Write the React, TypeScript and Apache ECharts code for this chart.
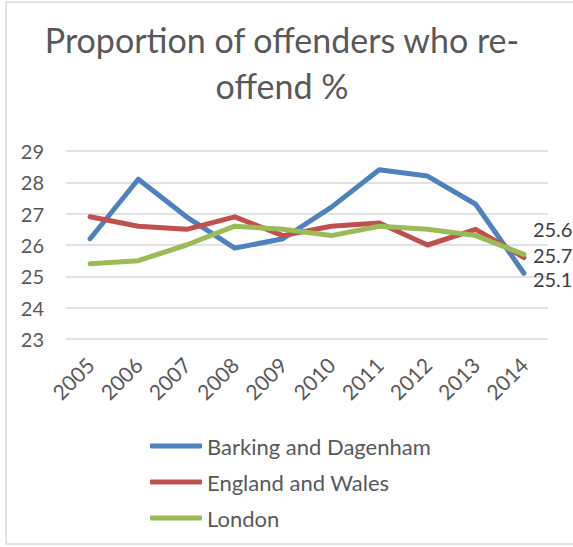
import React, { useEffect, useRef } from "react";
import * as echarts from "echarts";

const years = ["2005", "2006", "2007", "2008", "2009", "2010", "2011", "2012", "2013", "2014"];
const barking = [26.2, 28.1, 26.9, 25.9, 26.2, 27.2, 28.4, 28.2, 27.3, 25.1];
const englandWales = [26.9, 26.6, 26.5, 26.9, 26.3, 26.6, 26.7, 26.0, 26.5, 25.6];
const london = [25.4, 25.5, 26.0, 26.6, 26.5, 26.3, 26.6, 26.5, 26.3, 25.7];
const seriesNames = ["Barking and Dagenham", "England and Wales", "London"];
const colors = ["#4F81BD", "#C0504D", "#9BBB59"];
const labelOffsets = [6, -29, 1];

const FONT = "Lato, 'Open Sans', sans-serif";

export default function App() {
  const ref = useRef<HTMLDivElement>(null);
  useEffect(() => {
    if (!ref.current) return;
    const chart = echarts.init(ref.current, undefined, { renderer: "svg" });
    const all = [barking, englandWales, london];
    const series = all.map((vals, i) => ({
      name: seriesNames[i],
      type: "line",
      data: vals,
      showSymbol: false,
      symbol: "none",
      lineStyle: { color: colors[i], width: 5, cap: "round", join: "round" },
      itemStyle: { color: colors[i] },
      endLabel: {
        show: true,
        distance: 9,
        offset: [0, labelOffsets[i]],
        color: "#404040",
        fontSize: 20,
        lineHeight: 18,
        fontFamily: FONT,
        formatter: () => String(vals[vals.length - 1]),
      },
      z: 3 + i,
    }));
    chart.setOption({
      animation: false,
      backgroundColor: "#ffffff",
      textStyle: { fontFamily: FONT },
      title: {
        text: "Proportion of offenders who re-\noffend %",
        left: 277,
        top: 11,
        textAlign: "center",
        textStyle: {
          fontFamily: FONT,
          fontSize: 34,
          fontWeight: "normal",
          color: "#595959",
          lineHeight: 46,
        },
      },
      graphic: [
        {
          type: "rect",
          shape: { x: 6, y: 2, width: 600, height: 542 },
          style: { fill: "none", stroke: "#d9d9d9", lineWidth: 1.5 },
          silent: true,
        },
      ],
      legend: {
        orient: "vertical",
        left: 145,
        top: 428,
        itemWidth: 52,
        itemHeight: 5,
        itemGap: 10,
        icon: "roundRect",
        data: seriesNames.map((n, i) => ({ name: n, itemStyle: { color: colors[i] } })),
        textStyle: { fontFamily: FONT, fontSize: 22, color: "#595959", lineHeight: 26 },
      },
      grid: { left: 66, right: 25, top: 151, bottom: 208, containLabel: false },
      xAxis: {
        type: "category",
        data: years,
        boundaryGap: true,
        axisLine: { show: false },
        axisTick: { show: false },
        axisLabel: {
          rotate: 45,
          margin: 22,
          interval: 0,
          color: "#595959",
          fontSize: 21,
          fontFamily: FONT,
        },
      },
      yAxis: {
        type: "value",
        min: 23,
        max: 29,
        interval: 1,
        axisLine: { show: false },
        axisTick: { show: false },
        axisLabel: { color: "#595959", fontSize: 20, fontFamily: FONT, margin: 22 },
        splitLine: { lineStyle: { color: "#d9d9d9", width: 1.5 } },
      },
      series,
    });
    return () => chart.dispose();
  }, []);
  return (
    <div
      ref={ref}
      style={{ position: "fixed", left: 0, top: 0, width: 573, height: 547, background: "#fff" }}
    />
  );
}
